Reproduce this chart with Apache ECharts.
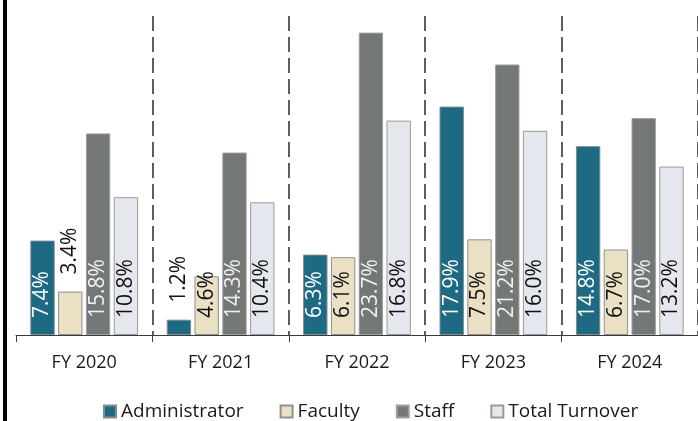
<!DOCTYPE html>
<html>
<head>
<meta charset="utf-8">
<script src="https://cdn.jsdelivr.net/npm/echarts@6/dist/echarts.min.js"></script>
<style>
  html, body { margin: 0; padding: 0; background: #fff; }
  #chart { width: 698px; height: 421px; }
</style>
</head>
<body>
<div id="chart"></div>
<script>
const categories = ['FY 2020', 'FY 2021', 'FY 2022', 'FY 2023', 'FY 2024'];
const administrator = [7.4, 1.2, 6.3, 17.9, 14.8];
const faculty = [3.4, 4.6, 6.1, 7.5, 6.7];
const staff = [15.8, 14.3, 23.7, 21.2, 17.0];
const totalTurnover = [10.8, 10.4, 16.8, 16.0, 13.2];

const font = '"Open Sans", "Noto Sans", sans-serif';

// short bars get their label above the bar
function barData(values, insideColor) {
    return values.map(function (v) {
        const small = v < 4;
        return {
            value: v,
            label: {
                position: small ? 'top' : 'insideBottom',
                color: small ? '#111' : insideColor
            }
        };
    });
}

function makeSeries(name, values, color, border, labelColor) {
    return {
        name: name,
        type: 'bar',
        data: barData(values, labelColor),
        barGap: '14%',
        barCategoryGap: '21%',
        itemStyle: { color: color, borderColor: border, borderWidth: 1 },
        label: {
            show: true,
            rotate: 90,
            align: 'left',
            verticalAlign: 'middle',
            distance: 17,
            fontFamily: font,
            fontSize: 21,
            formatter: function (p) { return p.value.toFixed(1) + '%'; }
        },
        emphasis: { disabled: true }
    };
}

const chart = echarts.init(document.getElementById('chart'));

const option = {
    animation: false,
    backgroundColor: '#fff',
    grid: { left: 16, right: 0, top: 16, bottom: 86, containLabel: false },
    legend: {
        left: 98,
        top: 397,
        itemWidth: 12,
        itemHeight: 12,
        itemGap: 36,
        icon: 'rect',
        textStyle: { fontFamily: font, fontSize: 19, color: '#1a1a1a' }
    },
    xAxis: {
        type: 'category',
        data: categories,
        axisLine: { lineStyle: { color: '#3a3a3a', width: 1 } },
        axisTick: { show: true, length: 7, interval: 0, lineStyle: { color: '#3a3a3a' } },
        axisLabel: { fontFamily: font, fontSize: 18, color: '#1a1a1a', margin: 19 },
        splitLine: {
            show: true,
            interval: function (i) { return i > 0; },
            lineStyle: { color: '#5e5e5e', width: 2, type: [15, 6] }
        }
    },
    yAxis: {
        type: 'value',
        min: 0,
        max: 25,
        show: false,
        splitLine: { show: false }
    },
    series: [
        makeSeries('Administrator', administrator, '#1d6a82', '#7f8c90', '#ffffff'),
        makeSeries('Faculty', faculty, '#eae1c4', '#8f8f8f', '#111111'),
        makeSeries('Staff', staff, '#747777', '#a0a0a0', '#f2f2f2'),
        makeSeries('Total Turnover', totalTurnover, '#e4e7ed', '#9a9a9a', '#111111')
    ],
    graphic: [
        { type: 'rect', shape: { x: 3, y: 0, width: 4, height: 421 }, style: { fill: '#000' } }
    ]
};

chart.setOption(option);
window.addEventListener('resize', chart.resize);
</script>
</body>
</html>
